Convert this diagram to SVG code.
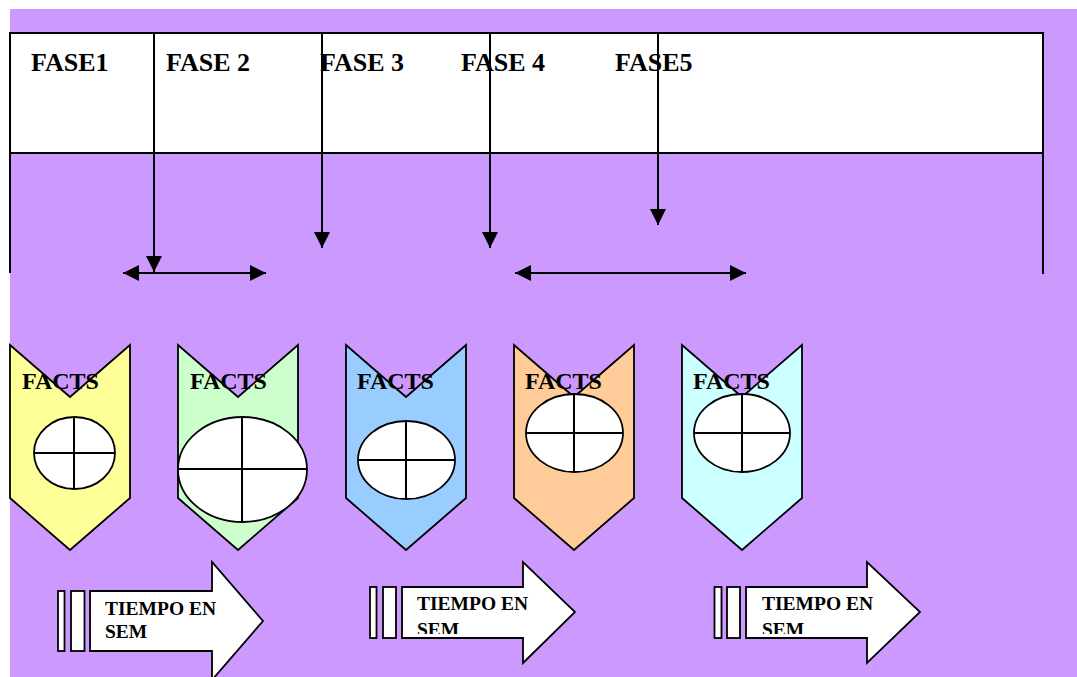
<svg xmlns="http://www.w3.org/2000/svg" width="1077" height="677" viewBox="0 0 1077 677">
<style>
.ln{stroke:#000;stroke-width:2;fill:none}
.sh{stroke:#000;stroke-width:1.8;stroke-linejoin:miter}
.fase{font-family:"Liberation Serif","Times New Roman",serif;font-weight:bold;font-size:26px;fill:#000}
.facts{font-family:"Liberation Serif","Times New Roman",serif;font-weight:bold;font-size:24px;fill:#000}
.tm{font-family:"Liberation Serif","Times New Roman",serif;font-weight:bold;font-size:19.5px;fill:#000}
.el{fill:#fff;stroke:#000;stroke-width:1.8}
.wh{fill:#fff;stroke:#000;stroke-width:1.8}
</style>
<defs>
<marker id="ah" viewBox="0 0 16 16" refX="16" refY="8" markerWidth="16" markerHeight="16" markerUnits="userSpaceOnUse" orient="auto-start-reverse">
<path d="M0,0 L16,8 L0,16 Z" fill="#000"/>
</marker>
<clipPath id="c2"><rect x="401" y="587" width="130" height="47"/></clipPath>
<clipPath id="c3"><rect x="746" y="587" width="130" height="47"/></clipPath>
</defs>
<rect x="0" y="0" width="1077" height="677" fill="#fff"/>
<rect x="10" y="9" width="1067" height="668" fill="#cc99ff"/>

<g id="table">
<rect x="10" y="33" width="1033" height="120" fill="#fff" stroke="#000" stroke-width="2"/>
<line class="ln" x1="10" y1="153" x2="10" y2="273"/>
<line class="ln" x1="1043" y1="153" x2="1043" y2="274"/>
<text class="fase" x="31" y="71">FASE1</text>
<text class="fase" x="166" y="71">FASE 2</text>
<text class="fase" x="320" y="71">FASE 3</text>
<text class="fase" x="461" y="71">FASE 4</text>
<text class="fase" x="615" y="71">FASE5</text>
</g>

<g id="connectors">
<line class="ln" x1="154" y1="33" x2="154" y2="272" marker-end="url(#ah)"/>
<line class="ln" x1="322" y1="33" x2="322" y2="248" marker-end="url(#ah)"/>
<line class="ln" x1="490" y1="33" x2="490" y2="248" marker-end="url(#ah)"/>
<line class="ln" x1="658" y1="33" x2="658" y2="225" marker-end="url(#ah)"/>
<line class="ln" x1="123" y1="273" x2="266" y2="273" marker-start="url(#ah)" marker-end="url(#ah)"/>
<line class="ln" x1="515" y1="273" x2="746" y2="273" marker-start="url(#ah)" marker-end="url(#ah)"/>
</g>

<g id="facts1">
<polygon class="sh" fill="#ffff99" points="10,345 70,397 130,345 130,498 70,550 10,498"/>
<text class="facts" x="22" y="389">FACTS</text>
<ellipse class="el" cx="74.5" cy="453" rx="40.5" ry="36"/>
<line class="ln" x1="74" y1="417" x2="74" y2="489"/>
<line class="ln" x1="34" y1="453" x2="115" y2="453"/>
</g>
<g id="facts2">
<polygon class="sh" fill="#ccffcc" points="178,345 238,397 298,345 298,498 238,550 178,498"/>
<text class="facts" x="190" y="389">FACTS</text>
<ellipse class="el" cx="242.5" cy="469.5" rx="64.5" ry="52.5"/>
<line class="ln" x1="242" y1="417" x2="242" y2="522"/>
<line class="ln" x1="178" y1="469" x2="307" y2="469"/>
</g>
<g id="facts3">
<polygon class="sh" fill="#99ccff" points="346,345 406,397 466,345 466,498 406,550 346,498"/>
<text class="facts" x="357" y="389">FACTS</text>
<ellipse class="el" cx="406.5" cy="460" rx="48.5" ry="39"/>
<line class="ln" x1="406" y1="421" x2="406" y2="499"/>
<line class="ln" x1="358" y1="460" x2="455" y2="460"/>
</g>
<g id="facts4">
<polygon class="sh" fill="#ffcc99" points="514,345 574,397 634,345 634,498 574,550 514,498"/>
<text class="facts" x="525" y="389">FACTS</text>
<ellipse class="el" cx="574.5" cy="433" rx="48.5" ry="39"/>
<line class="ln" x1="574" y1="394" x2="574" y2="472"/>
<line class="ln" x1="526" y1="433" x2="623" y2="433"/>
</g>
<g id="facts5">
<polygon class="sh" fill="#ccffff" points="682,345 742,397 802,345 802,498 742,550 682,498"/>
<text class="facts" x="693" y="389">FACTS</text>
<ellipse class="el" cx="742" cy="433" rx="48" ry="39"/>
<line class="ln" x1="742" y1="394" x2="742" y2="472"/>
<line class="ln" x1="694" y1="433" x2="790" y2="433"/>
</g>

<g id="tiempo1">
<rect class="wh" x="58" y="591" width="6.5" height="60"/>
<rect class="wh" x="71" y="591" width="13.5" height="60"/>
<polygon class="wh" points="90,591 212,591 212,562 263,621 212,680 212,651 90,651"/>
<text class="tm" x="105" y="615">TIEMPO EN</text>
<text class="tm" x="105" y="638">SEM</text>
</g>
<g id="tiempo2">
<rect class="wh" x="370" y="587" width="6.5" height="51"/>
<rect class="wh" x="383" y="587" width="13" height="51"/>
<polygon class="wh" points="402,587 523,587 523,562 575,612 523,663 523,638 402,638"/>
<g clip-path="url(#c2)">
<text class="tm" x="417" y="610">TIEMPO EN</text>
<text class="tm" x="417" y="636">SEM</text>
</g>
</g>
<g id="tiempo3">
<rect class="wh" x="714.5" y="587" width="7" height="51"/>
<rect class="wh" x="727" y="587" width="13" height="51"/>
<polygon class="wh" points="746,587 867,587 867,562 920,612 867,663 867,638 746,638"/>
<g clip-path="url(#c3)">
<text class="tm" x="762" y="610">TIEMPO EN</text>
<text class="tm" x="762" y="636">SEM</text>
</g>
</g>
</svg>
